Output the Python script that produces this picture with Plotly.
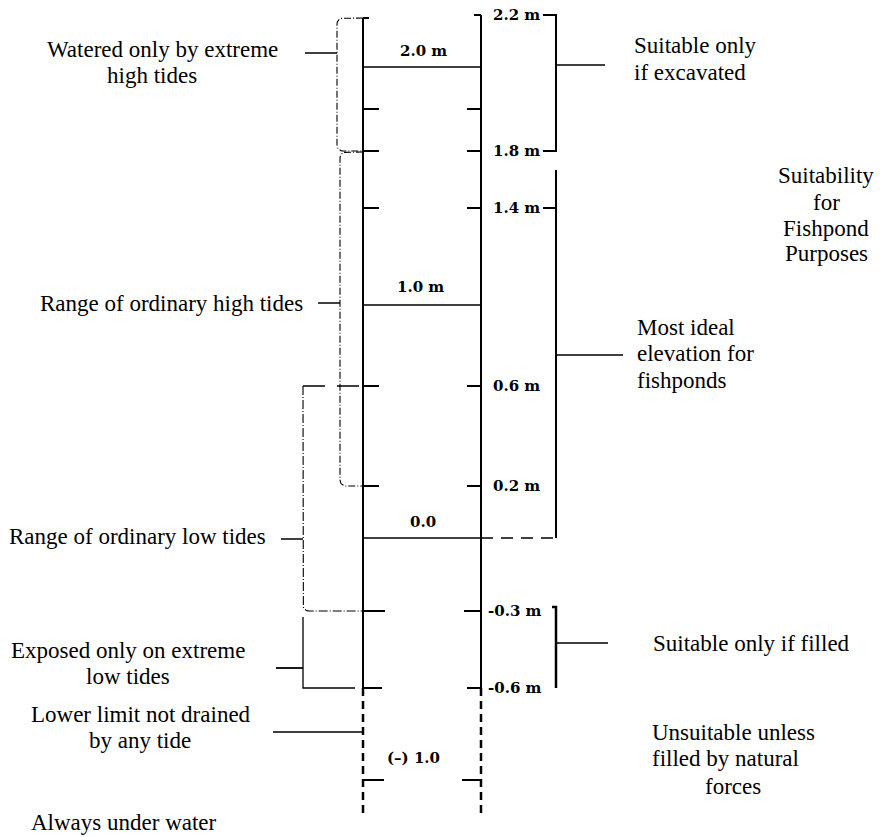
import numpy as np
import plotly.graph_objects as go

# ---------------- data ----------------
scale_labels = ["2.2 m", "1.8 m", "1.4 m", "0.6 m", "0.2 m", "-0.3 m", "-0.6 m"]
scale_elev = [2.2, 1.8, 1.4, 0.6, 0.2, -0.3, -0.6]
level_labels = ["2.0 m", "1.0 m", "0.0", "(–) 1.0"]
level_elev = [2.0, 1.0, 0.0, -1.0]
minor_tick_elev = [1.9]
tide_zones = [
    ["Watered only by extreme", "high tides"],
    ["Range of ordinary high tides"],
    ["Range of ordinary low tides"],
    ["Exposed only on extreme", "low tides"],
    ["Lower limit not drained", "by any tide"],
    ["Always under water"],
]
suitability_zones = [
    ["Suitable only", "if excavated"],
    ["Most ideal", "elevation for", "fishponds"],
    ["Suitable only if filled"],
    ["Unsuitable unless", "filled by natural"],
]
suitability_tail = "forces"
suitability_title = ["Suitability", "for", "Fishpond", "Purposes"]

# ---------------- schematic layout (diagram is not to scale) ----------------
ROW = {2.2: 15, 2.0: 67, 1.9: 109, 1.8: 151, 1.4: 208, 1.0: 305, 0.6: 386,
       0.2: 486, 0.0: 538, -0.3: 611, -0.6: 688, -1.0: 780}
XL, XR, XB = 363, 481, 556
BOTTOM = 816

fig = go.Figure()


def line(xs, ys, width=1.5, dash="solid"):
    fig.add_trace(go.Scatter(x=list(xs), y=list(ys), mode="lines",
                             line=dict(color="black", width=width, dash=dash),
                             hoverinfo="skip", showlegend=False))


def arc(cx, cy, r, a0, a1, n=10):
    t = np.radians(np.linspace(a0, a1, n))
    return list(cx + r * np.cos(t)), list(cy + r * np.sin(t))


def brace(xv, ytop, ybot, xend, r=6, round_top=True, round_bot=True):
    xs, ys = [xend], [ytop]
    if round_top:
        ax, ay = arc(xv + r, ytop + r, r, 270, 180)
        xs += ax; ys += ay
    else:
        xs += [xv]; ys += [ytop]
    if round_bot:
        ax, ay = arc(xv + r, ybot - r, r, 180, 90)
        xs += ax; ys += ay
    else:
        xs += [xv]; ys += [ybot]
    xs += [xend]; ys += [ybot]
    return xs, ys


# main columns
line([XL, XL], [18, ROW[-0.6]], 2)
line([XR, XR], [ROW[2.2], ROW[-0.6]], 2)
line([XL, XL], [ROW[-0.6], BOTTOM], 2.5, "8px,5px")
line([XR, XR], [ROW[-0.6], BOTTOM], 2.5, "8px,5px")

# level lines across the columns
for e in level_elev[:3]:
    line([XL, XR], [ROW[e], ROW[e]], 1.6)
line([XR, XB], [ROW[0.0], ROW[0.0]], 1.4, "12px,8px")

# ticks on both columns
for e in scale_elev + minor_tick_elev + [-1.0]:
    if e == 2.2:
        continue
    ln = {-0.3: 22, -0.6: 19, -1.0: 21}.get(e, 16)
    rn = {-0.3: 17, -1.0: 19}.get(e, 14)
    line([XL, XL + ln], [ROW[e], ROW[e]], 2)
    line([XR - rn, XR], [ROW[e], ROW[e]], 2)
line([XR - 7, XR], [ROW[2.2], ROW[2.2]], 2)
line([XL, XL + 6], [18, 18], 2)

LBL = dict(family="DejaVu Serif", size=15, color="black", weight="bold")
# scale labels
for lab, e in zip(scale_labels, scale_elev):
    x0 = 486 if lab.startswith("-") else 491
    fig.add_annotation(x=x0, y=ROW[e], text=lab, showarrow=False, xanchor="left",
                       yanchor="middle", font=LBL)

# level labels
lvl_pos = {2.0: (423, 51), 1.0: (420, 287), 0.0: (423, 522), -1.0: (413, 758)}
for lab, e in zip(level_labels, level_elev):
    x, y = lvl_pos[e]
    fig.add_annotation(x=x, y=y, text=lab, showarrow=False, xanchor="center",
                       yanchor="middle", font=LBL)

# right brackets (suitability)
line([543, XB, XB, 543], [ROW[2.2], ROW[2.2], ROW[1.8], ROW[1.8]], 2)
line([XB, 605], [65, 65], 1.5)
line([XB, XB], [170, ROW[0.0]], 2)
line([543, XB], [ROW[1.4], ROW[1.4]], 2)
line([XB, 623], [355, 355], 1.5)
line([XB - 4, XB, XB], [607, 607, ROW[-0.6]], 2.5)
line([XB, 608], [643, 643], 1.5)

# left braces (tide zones)
bx, by = brace(337, 18, 151, XL)
line(bx, by, 1.1, "7px,2px,1px,2px")
line([305, 337], [53, 53], 1.5)
bx, by = brace(340, 152, ROW[0.2], XL)
line(bx, by, 1.1, "7px,2px,1px,2px")
line([318, 340], [303, 303], 1.5)
bx, by = brace(303, ROW[0.6], ROW[-0.3], XL, r=6, round_top=False)
line(bx[1:], by[1:], 1.1, "9px,2px,1px,2px")
line([303, 360], [ROW[0.6], ROW[0.6]], 1.5, "22px,12px")
line([281, 303], [539, 539], 1.5)
line([303, 303, 355], [617, ROW[-0.6], ROW[-0.6]], 1.3)
line([276, 303], [668, 668], 1.8)
line([273, XL], [732, 732], 1.5)

# text
TF = dict(family="Liberation Serif, Times New Roman, serif", size=23, color="black")


def text_lines(lines, xs, ys, anchor):
    for t, x, y in zip(lines, xs, ys):
        fig.add_annotation(x=x, y=y, text=t, showarrow=False, xanchor=anchor,
                           yanchor="middle", font=TF)


left_x = [[162, 152], [305], [268], [128, 128], [141, 140], [124]]
left_y = [[49, 75], [303], [536], [650, 676], [714, 740], [822]]
left_anchor = ["center", "right", "right", "center", "center", "center"]
for lines, xs, ys, anc in zip(tide_zones, left_x, left_y, left_anchor):
    text_lines(lines, xs, ys, anc)

right_x = [632, 635, 651, 650]
right_y = [[45, 72], [327, 353, 380], [643], [732, 758]]
for lines, x, ys in zip(suitability_zones, right_x, right_y):
    text_lines(lines, [x] * len(lines), ys, "left")
text_lines([suitability_tail], [733], [786], "center")
text_lines(suitability_title, [826] * 4, [175, 202, 228, 253], "center")

fig.update_layout(
    width=880, height=837, margin=dict(l=0, r=0, t=0, b=0),
    paper_bgcolor="white", plot_bgcolor="white",
    xaxis=dict(range=[0, 880], visible=False, fixedrange=True),
    yaxis=dict(range=[837, 0], visible=False, fixedrange=True),
    showlegend=False,
)
fig.write_html("out.html", config={"displayModeBar": False},
               post_script="document.body.style.margin='0';document.body.style.overflow='hidden';")
